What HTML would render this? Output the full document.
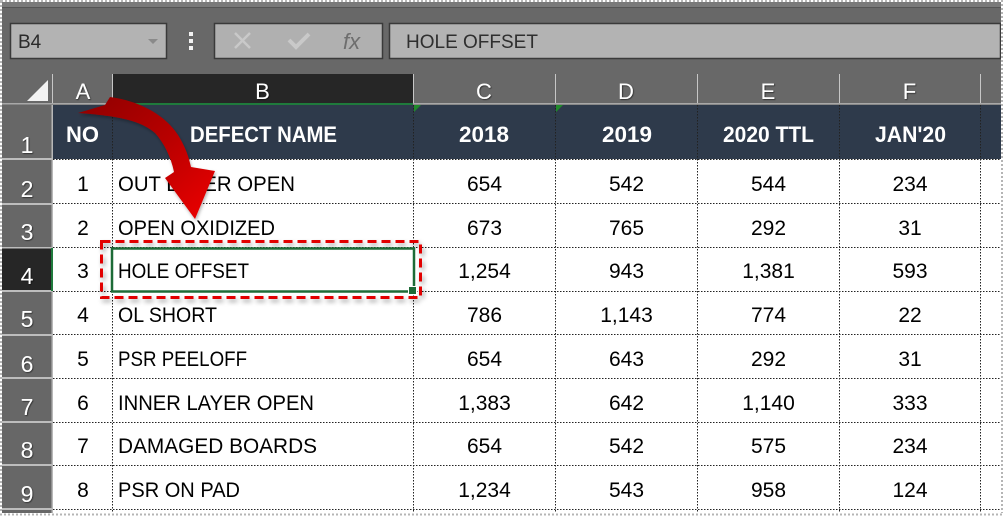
<!DOCTYPE html>
<html>
<head>
<meta charset="utf-8">
<style>
  html,body{margin:0;padding:0;background:#fff;}
  svg{display:block;}
  text{font-family:"Liberation Sans",Arial,sans-serif;}
</style>
</head>
<body>
<svg width="1003" height="516" viewBox="0 0 1003 516" xmlns="http://www.w3.org/2000/svg">
  <defs>
    <linearGradient id="arrowGrad" x1="0" y1="0" x2="1" y2="1">
      <stop offset="0" stop-color="#8e0000"/>
      <stop offset="0.5" stop-color="#b80000"/>
      <stop offset="1" stop-color="#ee0000"/>
    </linearGradient>
    <filter id="shadow" x="-10%" y="-20%" width="120%" height="150%">
      <feDropShadow dx="2" dy="3" stdDeviation="2.5" flood-color="#000" flood-opacity="0.35"/>
    </filter>
    <filter id="ashadow" x="-20%" y="-20%" width="140%" height="140%">
      <feDropShadow dx="1" dy="2" stdDeviation="1.5" flood-color="#000" flood-opacity="0.3"/>
    </filter>
    <filter id="tshadow" x="-20%" y="-20%" width="140%" height="140%">
      <feDropShadow dx="0.8" dy="0.8" stdDeviation="0.4" flood-color="#000" flood-opacity="0.6"/>
    </filter>
  </defs>

  <!-- base background -->
  <rect x="0" y="0" width="1003" height="516" fill="#686868"/>
  <!-- top strip -->
  <rect x="0" y="0" width="1003" height="7" fill="#7a7a7a"/>
  <rect x="0" y="7" width="1003" height="1" fill="#555"/>

  <!-- name box -->
  <rect x="10.5" y="23.5" width="156" height="35" fill="#b3b3b3" stroke="#3a3a3a" stroke-width="1.5"/>
  <text x="18" y="48" font-size="19" fill="#2b2b2b">B4</text>
  <polygon points="148,39 158,39 153,44" fill="#8a8a8a"/>

  <!-- three dots -->
  <rect x="189" y="32" width="4" height="4" fill="#f2f2f2"/>
  <rect x="189" y="39" width="4" height="4" fill="#f2f2f2"/>
  <rect x="189" y="46" width="4" height="4" fill="#f2f2f2"/>

  <!-- fx box -->
  <rect x="214.5" y="23.5" width="168" height="35" fill="#b0b0b0" stroke="#3a3a3a" stroke-width="1.5"/>
  <line x1="235" y1="33" x2="250" y2="48" stroke="#c9c9c9" stroke-width="2.5"/>
  <line x1="250" y1="33" x2="235" y2="48" stroke="#c9c9c9" stroke-width="2.5"/>
  <polyline points="289,40 296,47 309,34" fill="none" stroke="#c9c9c9" stroke-width="4"/>
  <text x="343" y="49" font-size="22" font-style="italic" fill="#6e6e6e" font-family="Liberation Serif, serif">fx</text>

  <!-- formula input -->
  <rect x="389.5" y="23.5" width="611" height="35" fill="#b3b3b3" stroke="#3a3a3a" stroke-width="1.5"/>
  <text x="406" y="48" font-size="19" fill="#2f2f2f">HOLE OFFSET</text>

  <!-- column header row -->
  <rect x="112" y="74" width="301" height="30" fill="#262626"/>
  <polygon points="27,101 48,101 48,80" fill="#f2f2f2"/>
  <g stroke="#c6c6c6" stroke-width="1">
    <line x1="52.5" y1="74" x2="52.5" y2="104"/>
    <line x1="112.5" y1="74" x2="112.5" y2="104"/>
    <line x1="413.5" y1="74" x2="413.5" y2="104"/>
    <line x1="555.5" y1="74" x2="555.5" y2="104"/>
    <line x1="697.5" y1="74" x2="697.5" y2="104"/>
    <line x1="839.5" y1="74" x2="839.5" y2="104"/>
    <line x1="980.5" y1="74" x2="980.5" y2="104"/>
  </g>
  <rect x="0" y="103" width="1003" height="1.5" fill="#a8a8a8"/>
  <rect x="112" y="103" width="301" height="2" fill="#1f7a3c"/>

  <g font-size="22" fill="#ffffff" text-anchor="middle" filter="url(#tshadow)">
    <text x="83" y="99">A</text>
    <text x="262.5" y="99">B</text>
    <text x="484" y="99">C</text>
    <text x="626" y="99">D</text>
    <text x="768" y="99">E</text>
    <text x="909.5" y="99">F</text>
  </g>

  <!-- data area white -->
  <rect x="53" y="159" width="948" height="354" fill="#ffffff"/>
  <!-- header row slate -->
  <rect x="53" y="105" width="948" height="54" fill="#2e3a4b"/>

  <!-- row headers -->
  <rect x="2" y="105" width="50" height="408" fill="#676767"/>
  <rect x="2" y="248" width="50" height="43" fill="#262626"/>
  <g fill="#bdbdbd">
    <rect x="2" y="158" width="50" height="2"/>
    <rect x="2" y="203" width="50" height="2"/>
    <rect x="2" y="247" width="50" height="1.5"/>
    <rect x="2" y="290" width="50" height="2"/>
    <rect x="2" y="334" width="50" height="2"/>
    <rect x="2" y="377" width="50" height="2"/>
    <rect x="2" y="421" width="50" height="2"/>
    <rect x="2" y="464" width="50" height="2"/>
    <rect x="2" y="508" width="50" height="2"/>
  </g>
  <rect x="51.5" y="105" width="1.5" height="408" fill="#b8b8b8"/>
  <rect x="51" y="248" width="2" height="43" fill="#1f7a3c"/>

  <g font-size="23" fill="#ffffff" text-anchor="middle" filter="url(#tshadow)">
    <text x="27" y="153">1</text>
    <text x="27" y="197">2</text>
    <text x="27" y="240">3</text>
    <text x="27" y="284">4</text>
    <text x="27" y="327">5</text>
    <text x="27" y="372">6</text>
    <text x="27" y="415">7</text>
    <text x="27" y="458">8</text>
    <text x="27" y="502">9</text>
  </g>

  <!-- dotted gridlines -->
  <g stroke="#222" stroke-width="1" stroke-dasharray="1.5 1.5">
    <line x1="112.5" y1="105" x2="112.5" y2="513"/>
    <line x1="413.5" y1="105" x2="413.5" y2="513"/>
    <line x1="555.5" y1="105" x2="555.5" y2="513"/>
    <line x1="697.5" y1="105" x2="697.5" y2="513"/>
    <line x1="839.5" y1="105" x2="839.5" y2="513"/>
    <line x1="980.5" y1="105" x2="980.5" y2="513"/>
    <line x1="53" y1="159.5" x2="1001" y2="159.5"/>
    <line x1="53" y1="203.5" x2="1001" y2="203.5"/>
    <line x1="53" y1="247.5" x2="1001" y2="247.5"/>
    <line x1="53" y1="291.5" x2="1001" y2="291.5"/>
    <line x1="53" y1="334.5" x2="1001" y2="334.5"/>
    <line x1="53" y1="378.5" x2="1001" y2="378.5"/>
    <line x1="53" y1="422.5" x2="1001" y2="422.5"/>
    <line x1="53" y1="465.5" x2="1001" y2="465.5"/>
    <line x1="53" y1="509.5" x2="1001" y2="509.5"/>
  </g>

  <!-- green error triangles -->
  <polygon points="414,105 421,105 414,112" fill="#1f8a2a"/>
  <polygon points="556,105 563,105 556,112" fill="#1f8a2a"/>

  <!-- header row text -->
  <g font-size="22" font-weight="bold" fill="#ffffff" text-anchor="middle">
    <text x="82.5" y="142" textLength="33" lengthAdjust="spacingAndGlyphs">NO</text>
    <text x="263.5" y="142" textLength="147" lengthAdjust="spacingAndGlyphs">DEFECT NAME</text>
    <text x="484" y="142" textLength="50" lengthAdjust="spacingAndGlyphs">2018</text>
    <text x="627" y="142" textLength="50" lengthAdjust="spacingAndGlyphs">2019</text>
    <text x="768.5" y="142" textLength="91" lengthAdjust="spacingAndGlyphs">2020 TTL</text>
    <text x="910.5" y="142" textLength="71" lengthAdjust="spacingAndGlyphs">JAN'20</text>
  </g>

  <!-- data rows -->
  <g font-size="21" fill="#000000">
    <g text-anchor="middle">
      <text x="83" y="191">1</text>
      <text x="83" y="235">2</text>
      <text x="83" y="278">3</text>
      <text x="83" y="322">4</text>
      <text x="83" y="366">5</text>
      <text x="83" y="410">6</text>
      <text x="83" y="453">7</text>
      <text x="83" y="497">8</text>
    </g>
    <text x="118" y="191" textLength="177" lengthAdjust="spacingAndGlyphs">OUT LAYER OPEN</text>
    <text x="118" y="235" textLength="157" lengthAdjust="spacingAndGlyphs">OPEN OXIDIZED</text>
    <text x="118" y="278" textLength="131" lengthAdjust="spacingAndGlyphs">HOLE OFFSET</text>
    <text x="118" y="322" textLength="99" lengthAdjust="spacingAndGlyphs">OL SHORT</text>
    <text x="118" y="366" textLength="129" lengthAdjust="spacingAndGlyphs">PSR PEELOFF</text>
    <text x="118" y="410" textLength="196" lengthAdjust="spacingAndGlyphs">INNER LAYER OPEN</text>
    <text x="118" y="453" textLength="199" lengthAdjust="spacingAndGlyphs">DAMAGED BOARDS</text>
    <text x="118" y="497" textLength="122" lengthAdjust="spacingAndGlyphs">PSR ON PAD</text>
    <g text-anchor="middle">
      <text x="484.5" y="191">654</text><text x="626.5" y="191">542</text><text x="768.5" y="191">544</text><text x="910" y="191">234</text>
      <text x="484.5" y="235">673</text><text x="626.5" y="235">765</text><text x="768.5" y="235">292</text><text x="910" y="235">31</text>
      <text x="484.5" y="278">1,254</text><text x="626.5" y="278">943</text><text x="768.5" y="278">1,381</text><text x="910" y="278">593</text>
      <text x="484.5" y="322">786</text><text x="626.5" y="322">1,143</text><text x="768.5" y="322">774</text><text x="910" y="322">22</text>
      <text x="484.5" y="366">654</text><text x="626.5" y="366">643</text><text x="768.5" y="366">292</text><text x="910" y="366">31</text>
      <text x="484.5" y="410">1,383</text><text x="626.5" y="410">642</text><text x="768.5" y="410">1,140</text><text x="910" y="410">333</text>
      <text x="484.5" y="453">654</text><text x="626.5" y="453">542</text><text x="768.5" y="453">575</text><text x="910" y="453">234</text>
      <text x="484.5" y="497">1,234</text><text x="626.5" y="497">543</text><text x="768.5" y="497">958</text><text x="910" y="497">124</text>
    </g>
  </g>

  <!-- red dashed highlight -->
  <rect x="101.5" y="241.5" width="319" height="56" fill="none" stroke="#e20000" stroke-width="3" stroke-dasharray="9 5" filter="url(#shadow)"/>

  <!-- green selection -->
  <rect x="112" y="248.5" width="302" height="43" fill="none" stroke="#1d6b37" stroke-width="2.5"/>
  <rect x="408.5" y="286.5" width="8" height="8" fill="#1d6b37" stroke="#ffffff" stroke-width="1"/>

  <!-- curved arrow -->
  <path d="M78,113 L105,105 L110,97 C140,101 165,115 178,135 C186,148 189,158 191,167 L215,171 L195,219 L165,178 L174,172 C171,157 164,143 155,133 C141,121 120,116 78,113 Z"
        fill="url(#arrowGrad)" filter="url(#ashadow)"/>

  <!-- outer dotted frame -->
  <rect x="1" y="1" width="1001" height="514" fill="none" stroke="#ffffff" stroke-width="2"/>
  <rect x="1" y="1" width="1001" height="514" fill="none" stroke="#b5b5b5" stroke-width="2" stroke-dasharray="2 2"/>
  <rect x="0" y="513" width="1003" height="3" fill="#ffffff"/>
  <line x1="0" y1="514.5" x2="1003" y2="514.5" stroke="#b5b5b5" stroke-width="2" stroke-dasharray="2 2"/>
</svg>
</body>
</html>
